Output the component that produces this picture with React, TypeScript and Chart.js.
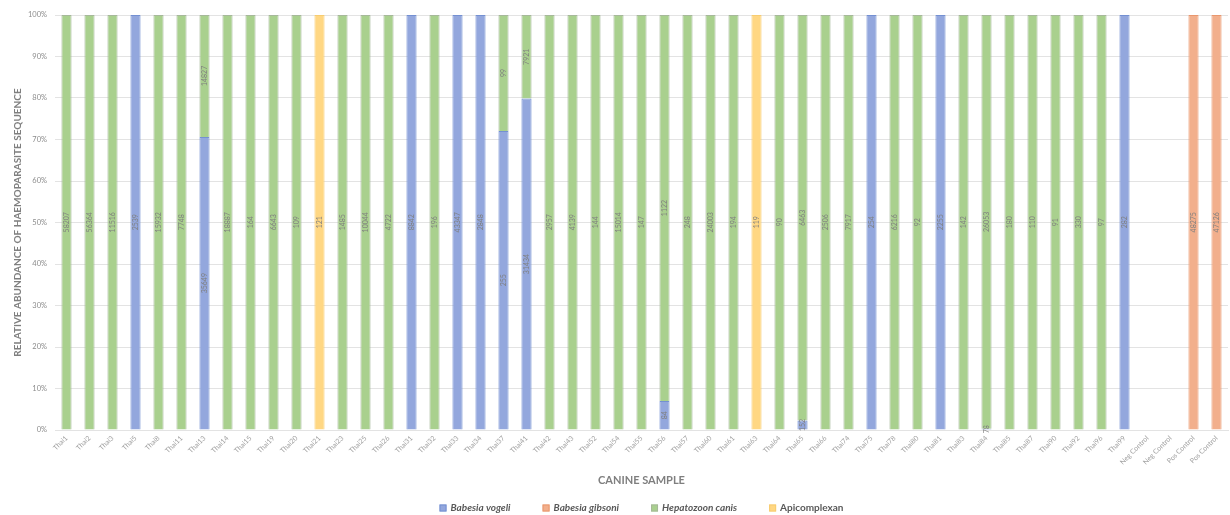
import React, { useEffect, useRef } from "react";
import { Chart, registerables } from "chart.js";

Chart.register(...registerables);

const categories = [
  "Thai1", "Thai2", "Thai3", "Thai5", "Thai8", "Thai11", "Thai13", "Thai14", "Thai15", "Thai19",
  "Thai20", "Thai21", "Thai23", "Thai25", "Thai26", "Thai31", "Thai32", "Thai33", "Thai34", "Thai37",
  "Thai41", "Thai42", "Thai43", "Thai52", "Thai54", "Thai55", "Thai56", "Thai57", "Thai60", "Thai61",
  "Thai63", "Thai64", "Thai65", "Thai66", "Thai74", "Thai75", "Thai78", "Thai80", "Thai81", "Thai83",
  "Thai84", "Thai85", "Thai87", "Thai90", "Thai92", "Thai96", "Thai99", "Neg Control", "Neg Control",
  "Pos Control", "Pos Control",
];

const babesiaVogeli = [
  0, 0, 0, 2539, 0, 0, 35649, 0, 0, 0,
  0, 0, 0, 0, 0, 8842, 0, 43347, 2848, 255,
  31434, 0, 0, 0, 0, 0, 84, 0, 0, 0,
  0, 0, 152, 0, 0, 254, 0, 0, 2255, 0,
  78, 0, 0, 0, 0, 0, 282, 0, 0,
  0, 0,
];

const babesiaGibsoni = [
  0, 0, 0, 0, 0, 0, 0, 0, 0, 0,
  0, 0, 0, 0, 0, 0, 0, 0, 0, 0,
  0, 0, 0, 0, 0, 0, 0, 0, 0, 0,
  0, 0, 0, 0, 0, 0, 0, 0, 0, 0,
  0, 0, 0, 0, 0, 0, 0, 0, 0,
  48275, 47126,
];

const hepatozoonCanis = [
  58207, 56364, 11516, 0, 15932, 7748, 14827, 18887, 164, 6643,
  109, 0, 1485, 10044, 4722, 0, 196, 0, 0, 99,
  7921, 2957, 4139, 144, 15014, 147, 1122, 248, 24003, 194,
  0, 90, 6463, 2506, 7917, 0, 6216, 92, 0, 142,
  26053, 180, 110, 91, 330, 97, 0, 0, 0,
  0, 0,
];

const apicomplexan = [
  0, 0, 0, 0, 0, 0, 0, 0, 0, 0,
  0, 121, 0, 0, 0, 0, 0, 0, 0, 0,
  0, 0, 0, 0, 0, 0, 0, 0, 0, 0,
  119, 0, 0, 0, 0, 0, 0, 0, 0, 0,
  0, 0, 0, 0, 0, 0, 0, 0, 0,
  0, 0,
];

const yTicks = [0, 10, 20, 30, 40, 50, 60, 70, 80, 90, 100];

const FONT = "Lato, 'Open Sans', 'DejaVu Sans', sans-serif";

export default function App() {
  const canvasRef = useRef<HTMLCanvasElement | null>(null);

  useEffect(() => {
    document.body.style.margin = "0";
    const canvas = canvasRef.current;
    if (!canvas) return;

    const series = [babesiaVogeli, babesiaGibsoni, hepatozoonCanis, apicomplexan];
    const totals = categories.map((_, i) => series.reduce((s, arr) => s + arr[i], 0));
    const pct = (arr: number[]) => arr.map((v, i) => (totals[i] ? (v / totals[i]) * 100 : 0));

    const mk = (label: string, counts: number[], bg: string, border: string, italic: boolean) => ({
      label,
      data: pct(counts),
      counts,
      italic,
      backgroundColor: bg,
      borderColor: border,
      borderWidth: 1,
      categoryPercentage: 1,
      barPercentage: 0.44,
    });

    const datasets: any[] = [
      mk("Babesia vogeli", babesiaVogeli, "#93A7DD", "#7490D2", true),
      mk("Babesia gibsoni", babesiaGibsoni, "#F2AF8C", "#E9976E", true),
      mk("Hepatozoon canis", hepatozoonCanis, "#A9D08E", "#A6B89A", true),
      mk("Apicomplexan", apicomplexan, "#FFD783", "#F7CC70", false),
    ];

    const labelPlugin = {
      id: "segLabels",
      afterDatasetsDraw(chart: any) {
        const ctx = chart.ctx;
        chart.data.datasets.forEach((ds: any, di: number) => {
          const meta = chart.getDatasetMeta(di);
          meta.data.forEach((el: any, i: number) => {
            const c = ds.counts[i];
            if (!c) return;
            const { x, y, base } = el.getProps(["x", "y", "base"], true);
            ctx.save();
            ctx.translate(x, (y + base) / 2);
            ctx.rotate(-Math.PI / 2);
            ctx.font = `7px ${FONT}`;
            ctx.fillStyle = "#7f7f7f";
            ctx.textAlign = "center";
            ctx.textBaseline = "middle";
            ctx.fillText(String(c), 0, 0);
            ctx.restore();
          });
        });
      },
    };

    const legendPlugin = {
      id: "customLegend",
      afterDraw(chart: any) {
        const ctx = chart.ctx;
        const ds = chart.data.datasets;
        const box = 7;
        const gapBoxText = 4;
        const gapItems = 32;
        const fonts = ds.map((d: any) => `${d.italic ? "italic " : ""}bold 10px ${FONT}`);
        const widths = ds.map((d: any, i: number) => {
          ctx.font = fonts[i];
          return box + gapBoxText + ctx.measureText(d.label).width;
        });
        const total = widths.reduce((a: number, b: number) => a + b, 0) + gapItems * (ds.length - 1);
        const ca = chart.chartArea;
        let x = (ca.left + ca.right) / 2 - total / 2;
        const y = 508;
        ds.forEach((d: any, i: number) => {
          ctx.save();
          ctx.fillStyle = d.backgroundColor;
          ctx.strokeStyle = d.borderColor;
          ctx.lineWidth = 1;
          ctx.fillRect(x, y - box / 2, box, box);
          ctx.strokeRect(x + 0.5, y - box / 2 + 0.5, box - 1, box - 1);
          ctx.font = fonts[i];
          ctx.fillStyle = "#595959";
          ctx.textAlign = "left";
          ctx.textBaseline = "middle";
          ctx.fillText(d.label, x + box + gapBoxText, y);
          ctx.restore();
          x += widths[i] + gapItems;
        });
      },
    };

    const chart = new Chart(canvas, {
      type: "bar",
      data: { labels: categories, datasets },
      options: {
        responsive: false,
        animation: false,
        layout: { padding: { top: 15, right: 2, bottom: 22, left: 0 } },
        plugins: {
          legend: { display: false },
          tooltip: { enabled: false },
        },
        scales: {
          x: {
            stacked: true,
            grid: { display: false, drawTicks: false },
            border: { display: true, color: "#E3E3E3" },
            ticks: {
              autoSkip: false,
              maxRotation: 45,
              minRotation: 45,
              font: { size: 7, family: FONT },
              color: "#a0a0a0",
              padding: 4,
            },
            title: {
              display: true,
              text: "CANINE SAMPLE",
              color: "#7f7f7f",
              font: { size: 11, family: FONT, weight: "bold" },
              padding: { top: 4, bottom: 6 },
            },
            afterFit: (scale: any) => {
              scale.height = 63;
            },
          },
          y: {
            stacked: true,
            min: 0,
            max: 100,
            afterBuildTicks: (scale: any) => {
              scale.ticks = yTicks.map((v) => ({ value: v }));
            },
            ticks: {
              callback: (v: any) => `${v}%`,
              font: { size: 7.5, family: FONT },
              color: "#8c8c8c",
              padding: 8,
            },
            grid: { color: "#E3E3E3", drawTicks: false },
            border: { display: false },
            title: {
              display: true,
              text: "RELATIVE ABUNDANCE OF HAEMOPARASITE SEQUENCE",
              color: "#7f7f7f",
              font: { size: 10, family: FONT, weight: "bold" },
              padding: { top: 12, bottom: 4 },
            },
            afterFit: (scale: any) => {
              scale.width = 55;
            },
          },
        },
      },
      plugins: [labelPlugin, legendPlugin],
    } as any);

    return () => chart.destroy();
  }, []);

  return <canvas ref={canvasRef} width={1230} height={515} style={{ display: "block" }} />;
}
